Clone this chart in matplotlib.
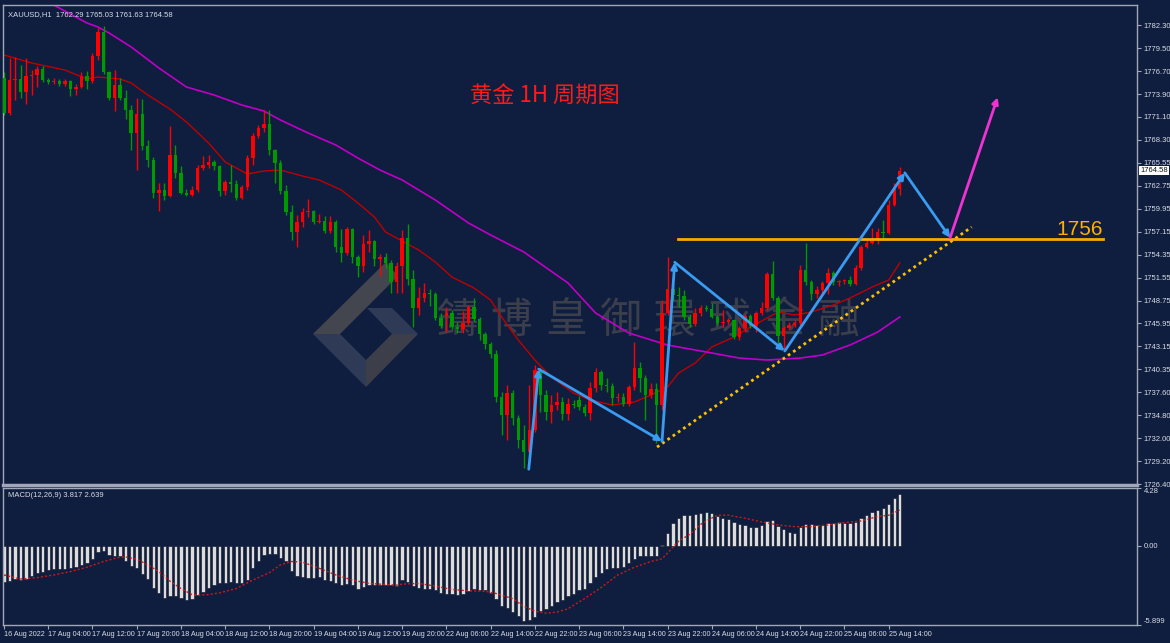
import matplotlib
matplotlib.use("Agg")
import matplotlib.pyplot as plt
import matplotlib.transforms as mtransforms
from matplotlib.patches import Polygon
import numpy as np

plt.rcParams['font.family'] = ['Liberation Sans', 'DejaVu Sans']

# ---- XAUUSD H1 candles (16 Aug 20:00 .. 25 Aug 16:00) ----
opens = [1775.9, 1771.6, 1775.6, 1775.7, 1774.1, 1776.1, 1776.2, 1777.0, 1775.6, 1775.4,
         1775.5, 1775.1, 1775.5, 1774.5, 1774.8, 1776.1, 1775.5, 1778.5, 1781.5, 1776.6,
         1773.4, 1775.0, 1773.4, 1772.0, 1769.2, 1771.5, 1767.6, 1765.9, 1761.8, 1762.2,
         1761.5, 1766.5, 1764.3, 1761.8, 1761.6, 1762.2, 1764.9, 1765.3, 1765.6, 1765.1,
         1762.1, 1763.2, 1762.9, 1761.2, 1762.6, 1766.1, 1768.8, 1769.8, 1770.2, 1767.1,
         1765.5, 1762.1, 1759.5, 1757.1, 1758.3, 1759.5, 1759.7, 1758.3, 1758.4, 1757.2,
         1758.3, 1755.3, 1754.5, 1757.5, 1754.0, 1753.0, 1755.6, 1756.0, 1753.8, 1754.0,
         1753.3, 1751.0, 1753.0, 1756.4, 1751.4, 1747.8, 1749.1, 1749.7, 1749.5, 1746.6,
         1746.9, 1747.2, 1745.5, 1745.3, 1746.0, 1748.0, 1746.5, 1744.7, 1743.5, 1742.2,
         1737.0, 1734.8, 1737.5, 1734.4, 1731.8, 1730.3, 1733.0, 1740.3, 1737.2, 1735.2,
         1736.0, 1736.4, 1734.9, 1736.1, 1736.6, 1735.8, 1735.0, 1738.1, 1740.0, 1738.5,
         1738.3, 1736.9, 1737.0, 1736.1, 1738.2, 1740.5, 1739.3, 1737.2, 1738.0, 1736.0,
         1747.2, 1750.2, 1749.4, 1749.3, 1746.7, 1745.9, 1747.2, 1747.8, 1747.7, 1746.7,
         1746.0, 1746.1, 1746.4, 1744.3, 1745.4, 1746.9, 1745.6, 1747.2, 1747.8, 1752.0,
         1749.1, 1744.4, 1745.4, 1745.8, 1746.0, 1752.5, 1751.0, 1749.5, 1750.0, 1750.9,
         1752.1, 1751.0, 1751.1, 1751.2, 1750.8, 1752.7, 1755.3, 1755.8, 1756.1, 1757.1,
         1757.0, 1760.4, 1762.29]
highs = [1776.6, 1778.3, 1778.4, 1777.4, 1778.3, 1776.8, 1777.3, 1777.3, 1775.9, 1775.9,
         1775.7, 1775.7, 1775.6, 1775.1, 1776.6, 1776.7, 1778.9, 1781.9, 1782.2, 1776.7,
         1776.8, 1775.9, 1774.4, 1772.6, 1773.4, 1773.3, 1768.3, 1766.2, 1763.1, 1763.1,
         1770.0, 1767.7, 1765.1, 1762.3, 1762.7, 1765.3, 1766.4, 1766.5, 1765.9, 1765.3,
         1763.4, 1765.3, 1763.4, 1762.8, 1766.5, 1769.2, 1770.1, 1772.0, 1772.0, 1767.2,
         1765.9, 1762.8, 1760.4, 1759.2, 1760.0, 1761.1, 1759.8, 1759.3, 1759.0, 1759.0,
         1758.6, 1757.5, 1757.7, 1757.6, 1754.3, 1756.7, 1757.3, 1756.1, 1754.4, 1754.5,
         1753.7, 1753.4, 1757.3, 1758.1, 1752.5, 1750.4, 1750.9, 1750.2, 1749.8, 1747.2,
         1748.0, 1747.6, 1746.1, 1747.5, 1748.2, 1749.1, 1746.7, 1744.9, 1743.7, 1742.7,
         1737.6, 1738.5, 1737.9, 1734.8, 1733.6, 1738.5, 1740.9, 1740.5, 1737.9, 1737.2,
         1737.6, 1737.0, 1736.9, 1736.6, 1737.1, 1736.1, 1738.8, 1740.5, 1740.3, 1739.3,
         1738.7, 1737.5, 1737.5, 1738.5, 1743.7, 1741.3, 1739.7, 1738.7, 1738.7, 1748.8,
         1754.0, 1750.9, 1750.4, 1750.0, 1747.1, 1747.8, 1748.2, 1748.2, 1748.4, 1747.0,
         1747.6, 1746.6, 1746.4, 1745.6, 1747.1, 1747.1, 1747.5, 1748.6, 1752.2, 1753.6,
         1749.3, 1745.6, 1746.1, 1746.4, 1753.1, 1755.8, 1751.2, 1750.5, 1751.1, 1752.7,
         1752.3, 1751.2, 1751.4, 1751.7, 1753.1, 1755.5, 1756.4, 1757.6, 1757.6, 1758.6,
         1761.0, 1763.1, 1765.03]
lows = [1771.3, 1771.4, 1773.2, 1773.4, 1772.7, 1773.8, 1774.8, 1775.4, 1775.1, 1775.1,
        1774.9, 1774.9, 1773.7, 1773.8, 1774.6, 1774.5, 1775.2, 1778.0, 1776.3, 1773.2,
        1771.8, 1773.2, 1770.9, 1767.1, 1764.6, 1767.1, 1765.0, 1761.2, 1759.7, 1761.0,
        1761.4, 1763.7, 1761.7, 1761.5, 1761.5, 1762.0, 1764.6, 1764.9, 1764.6, 1761.5,
        1761.6, 1762.0, 1761.0, 1761.1, 1762.2, 1765.3, 1768.5, 1769.3, 1766.5, 1763.1,
        1761.7, 1759.2, 1756.1, 1755.3, 1757.7, 1758.9, 1758.1, 1758.2, 1757.0, 1757.0,
        1754.7, 1753.4, 1754.3, 1753.3, 1751.6, 1752.2, 1754.7, 1753.0, 1751.7, 1752.7,
        1749.7, 1749.7, 1749.7, 1750.6, 1745.5, 1747.0, 1748.6, 1748.1, 1746.4, 1745.4,
        1744.9, 1745.3, 1744.8, 1744.8, 1745.8, 1746.3, 1743.9, 1742.8, 1741.7, 1736.4,
        1732.4, 1731.8, 1733.6, 1730.8, 1728.4, 1730.2, 1732.7, 1735.2, 1734.2, 1733.8,
        1735.4, 1734.2, 1734.2, 1735.7, 1735.4, 1734.7, 1734.2, 1737.6, 1737.9, 1737.6,
        1736.0, 1736.4, 1735.9, 1735.9, 1737.9, 1737.6, 1734.2, 1736.9, 1731.4, 1735.4,
        1747.0, 1748.8, 1748.0, 1746.4, 1745.5, 1745.6, 1746.9, 1747.5, 1746.6, 1745.8,
        1745.5, 1745.9, 1744.1, 1743.9, 1744.9, 1745.4, 1744.9, 1747.0, 1747.6, 1748.8,
        1743.6, 1742.7, 1745.2, 1745.5, 1745.8, 1750.6, 1748.8, 1749.1, 1749.5, 1749.5,
        1750.6, 1750.5, 1750.8, 1750.5, 1750.6, 1752.5, 1755.1, 1755.6, 1755.6, 1756.1,
        1756.9, 1760.3, 1761.63]
closes = [1771.6, 1775.6, 1775.7, 1774.1, 1776.1, 1776.2, 1777.0, 1775.6, 1775.4, 1775.5,
          1775.1, 1775.5, 1774.5, 1774.8, 1776.1, 1775.5, 1778.5, 1781.5, 1776.6, 1773.4,
          1775.0, 1773.4, 1772.0, 1769.2, 1771.5, 1767.6, 1765.9, 1761.8, 1762.2, 1761.5,
          1766.5, 1764.3, 1761.8, 1761.6, 1762.2, 1764.9, 1765.3, 1765.6, 1765.1, 1762.1,
          1763.2, 1762.9, 1761.2, 1762.6, 1766.1, 1768.8, 1769.8, 1770.2, 1767.1, 1765.5,
          1762.1, 1759.5, 1757.1, 1758.3, 1759.5, 1759.7, 1758.3, 1758.4, 1757.2, 1758.3,
          1755.3, 1754.5, 1757.5, 1754.0, 1753.0, 1755.6, 1756.0, 1753.8, 1754.0, 1753.3,
          1751.0, 1753.0, 1756.4, 1751.4, 1747.8, 1749.1, 1749.7, 1749.5, 1746.6, 1745.6,
          1747.2, 1745.5, 1745.3, 1746.0, 1748.0, 1746.5, 1744.7, 1743.5, 1742.2, 1737.0,
          1734.8, 1737.5, 1734.4, 1731.8, 1730.3, 1733.0, 1740.3, 1737.2, 1735.2, 1736.0,
          1736.4, 1734.9, 1736.1, 1736.0, 1735.8, 1735.0, 1738.1, 1740.0, 1738.5, 1738.3,
          1736.9, 1737.0, 1736.1, 1738.2, 1740.5, 1739.3, 1737.2, 1738.0, 1736.0, 1747.2,
          1750.2, 1749.4, 1749.3, 1746.7, 1745.9, 1747.2, 1747.8, 1747.7, 1746.7, 1746.0,
          1746.1, 1746.4, 1744.3, 1745.4, 1746.9, 1745.6, 1747.2, 1747.8, 1752.0, 1749.1,
          1744.4, 1745.4, 1745.8, 1746.0, 1752.5, 1751.0, 1749.5, 1750.0, 1750.9, 1752.1,
          1751.0, 1751.1, 1751.2, 1750.8, 1752.7, 1755.3, 1755.8, 1756.1, 1757.1, 1757.0,
          1760.4, 1762.3, 1764.58]

# moving averages (bar index, price)
ma_red_idx = [0, 5, 11, 15, 17, 21, 23, 26, 30, 33, 37, 40, 44, 47, 50, 54, 57, 61, 64, 67,
              69, 72, 75, 78, 81, 85, 88, 90, 93, 96, 99, 103, 106, 110, 114, 117, 120, 122,
              125, 128, 132, 135, 140, 143, 146, 150, 153, 157, 160, 162]
ma_red_val = [1778.65, 1777.68, 1776.82, 1775.73, 1775.97, 1775.73, 1775.24, 1773.78, 1772.07,
              1770.49, 1767.93, 1765.62, 1764.16, 1764.52, 1764.64, 1763.91, 1763.43, 1762.21,
              1760.63, 1758.92, 1757.09, 1756.00, 1754.90, 1753.44, 1751.61, 1750.27, 1748.81,
              1746.74, 1743.94, 1741.50, 1739.43, 1737.48, 1736.63, 1736.02, 1736.39, 1737.24,
              1738.21, 1739.92, 1741.14, 1743.09, 1744.30, 1745.52, 1747.35, 1746.98, 1747.35,
              1748.20, 1749.05, 1750.39, 1751.25, 1753.32]
ma_mag_idx = [8, 15, 17, 19, 23, 28, 33, 38, 43, 47, 50, 55, 60, 64, 68, 72, 78, 84, 88, 94,
              102, 107, 113, 120, 127, 133, 138, 144, 148, 153, 158, 162]
ma_mag_val = [1785.10, 1782.55, 1782.06, 1781.33, 1779.63, 1777.07, 1774.75, 1773.78, 1772.56,
              1771.83, 1770.73, 1769.15, 1767.69, 1766.10, 1764.64, 1763.43, 1760.99, 1758.19,
              1756.73, 1754.66, 1750.88, 1747.22, 1744.79, 1743.33, 1742.48, 1741.74, 1741.50,
              1741.74, 1742.11, 1743.33, 1744.91, 1746.74]

# MACD(12,26,9)
macd_main = [-2.69, -2.64, -2.48, -2.56, -2.48, -2.26, -2.06, -1.93, -1.81, -1.76,
             -1.73, -1.73, -1.63, -1.56, -1.43, -1.31, -1.00, -0.50, -0.43, -0.68,
             -0.80, -0.80, -1.13, -1.51, -1.68, -2.11, -2.51, -3.14, -3.51, -3.89,
             -3.77, -3.77, -3.89, -4.02, -3.97, -3.69, -3.44, -3.14, -2.94, -2.76,
             -2.76, -2.69, -2.76, -2.81, -2.56, -1.68, -1.18, -0.68, -0.60, -0.60,
             -0.93, -1.18, -1.86, -2.26, -2.36, -2.43, -2.43, -2.36, -2.56, -2.61,
             -2.76, -2.89, -2.86, -2.96, -3.19, -3.06, -2.94, -2.94, -2.94, -2.94,
             -2.94, -3.01, -2.56, -2.69, -3.01, -3.14, -3.19, -3.19, -3.31, -3.51,
             -3.56, -3.56, -3.64, -3.56, -3.39, -3.26, -3.31, -3.31, -3.51, -3.94,
             -4.49, -4.64, -4.94, -5.20, -5.57, -5.52, -5.27, -4.89, -4.69, -4.49,
             -4.19, -4.02, -3.77, -3.56, -3.31, -3.19, -2.81, -2.31, -2.01, -1.76,
             -1.68, -1.63, -1.56, -1.31, -0.98, -0.80, -0.80, -0.75, -0.80, 0.05,
             0.95, 1.66, 2.08, 2.26, 2.26, 2.38, 2.41, 2.46, 2.41, 2.21,
             2.08, 2.01, 1.76, 1.58, 1.53, 1.41, 1.41, 1.51, 1.83, 1.88,
             1.46, 1.26, 1.03, 0.95, 1.38, 1.58, 1.58, 1.53, 1.51, 1.71,
             1.71, 1.78, 1.71, 1.66, 1.78, 2.03, 2.26, 2.46, 2.66, 2.76,
             3.09, 3.51, 3.817]
sig_idx = [0, 3, 6, 9, 12, 15, 18, 21, 22, 24, 26, 28, 30, 32, 34, 35, 37, 39, 42, 45,
           48, 50, 52, 54, 57, 60, 63, 66, 69, 71, 72, 75, 78, 81, 84, 87, 89, 92, 94, 96,
           98, 100, 102, 105, 108, 111, 114, 117, 119, 120, 122, 124, 126, 127, 129, 131,
           134, 137, 140, 143, 146, 149, 152, 155, 158, 160, 162]
sig_val = [-2.18, -2.48, -2.38, -2.18, -1.93, -1.61, -1.18, -0.85, -0.85, -1.00,
           -1.43, -1.93, -2.64, -3.19, -3.64, -3.69, -3.64, -3.51, -3.19, -2.56,
           -2.01, -1.43, -1.18, -1.23, -1.68, -2.18, -2.56, -2.81, -2.89, -2.94,
           -2.86, -2.81, -3.01, -3.26, -3.36, -3.39, -3.56, -3.94, -4.52, -4.87,
           -5.02, -4.94, -4.69, -3.94, -3.11, -2.18, -1.61, -1.18, -0.98, -0.55,
           0.33, 0.83, 1.58, 1.83, 2.26, 2.26, 2.03, 1.76, 1.53, 1.41,
           1.41, 1.53, 1.71, 1.83, 2.16, 2.26, 2.639]

# axis labels
price_ticks = [1782.30, 1779.50, 1776.70, 1773.90, 1771.10, 1768.30, 1765.55, 1762.75,
               1759.95, 1757.15, 1754.35, 1751.55, 1748.75, 1745.95, 1743.15, 1740.35,
               1737.60, 1734.80, 1732.00, 1729.20, 1726.40]
time_labels = ['16 Aug 2022', '17 Aug 04:00', '17 Aug 12:00', '17 Aug 20:00', '18 Aug 04:00',
               '18 Aug 12:00', '18 Aug 20:00', '19 Aug 04:00', '19 Aug 12:00', '19 Aug 20:00',
               '22 Aug 06:00', '22 Aug 14:00', '22 Aug 22:00', '23 Aug 06:00', '23 Aug 14:00',
               '23 Aug 22:00', '24 Aug 06:00', '24 Aug 14:00', '24 Aug 22:00', '25 Aug 06:00',
               '25 Aug 14:00']
time_label_idx = [0, 8, 16, 24, 32, 40, 48, 56, 64, 72, 80, 88, 96, 104, 112, 120, 128,
                  136, 144, 152, 160]

# analyst drawings (bar index, price)
wave_idx = [94.9, 96.7, 119.0, 121.3, 141.2, 162.9, 171.1]
wave_px = [1728.2, 1740.4, 1731.6, 1753.4, 1742.6, 1764.3, 1756.4]
target_idx = [171.1, 179.7]
target_px = [1756.4, 1773.5]
trend_idx = [118.1, 175.0]
trend_px = [1730.9, 1757.7]
resist_level = 1756.2
resist_span = [121.9, 198.7]

bg = '#0f1d3f'
fg = '#d8dce4'
frame = '#a0a8b8'

fig = plt.figure(figsize=(11.7, 6.43), dpi=100, facecolor=bg)
ax = fig.add_axes([3 / 1170, 1 - 485 / 643, 1134 / 1170, 480 / 643])
ax2 = fig.add_axes([3 / 1170, 1 - 625 / 643, 1134 / 1170, 137 / 643])

for a in (ax, ax2):
    a.set_facecolor(bg)
    for s in a.spines.values():
        s.set_color(frame)
        s.set_linewidth(1)
    a.set_xlim(-0.18, 204.9)
ax.spines['bottom'].set_linewidth(2.5)

# watermark (logo + company name)
def px(x, y):
    return ((x - 3) / 1134, (485 - y) / 480)

logo = [
    ([(386, 262), (313, 334), (340, 334), (398, 276)], '#44464f'),
    ([(313, 334), (366, 387), (366, 360), (340, 334)], '#2f3a56'),
    ([(367, 308), (392, 308), (418, 334), (392, 334)], '#2f3a56'),
    ([(392, 334), (418, 334), (366, 387), (366, 360)], '#3c3f4a'),
]
for pts, col in logo:
    ax.add_patch(Polygon([px(x, y) for x, y in pts], closed=True, transform=ax.transAxes,
                         facecolor=col, edgecolor='none', zorder=0.5))
for k, ch in enumerate('鑄博皇御環球金融'):
    xf, yf = px(457 + 54.5 * k, 321)
    ax.text(xf, yf, ch, transform=ax.transAxes, ha='center', va='center', fontsize=30,
            color='#3b3f4c', family=['Noto Sans CJK TC', 'DejaVu Sans'], zorder=0.6)

idx = np.arange(len(closes))
o = np.array(opens)
c = np.array(closes)
cols = np.where(c >= o, '#ff0000', '#009a00')
ax.vlines(idx, lows, highs, colors=cols, linewidth=1, zorder=2)
ax.bar(idx, np.maximum(np.abs(c - o), 0.12), bottom=np.minimum(o, c), width=0.62,
       color=cols, linewidth=0, zorder=3)

ax.plot(ma_red_idx, ma_red_val, color='#c00000', lw=1, zorder=1.5)
ax.plot(ma_mag_idx, ma_mag_val, color='#c000c8', lw=1.2, zorder=1.5)

# analyst drawings
ax.plot(trend_idx, trend_px, color='#ffc000', lw=2, linestyle=(0, (1, 1.3)), zorder=4)
ax.plot(resist_span, [resist_level, resist_level], color='#f5aa00', lw=2, zorder=4)
ax.text(194.6, 1757.4, '1756', color='#ffb000', fontsize=15, ha='center', va='center', zorder=5)
arrow_kw = dict(arrowstyle='-|>', lw=2, mutation_scale=9, shrinkA=0, shrinkB=0)
for k in range(len(wave_idx) - 1):
    ax.annotate('', xy=(wave_idx[k + 1], wave_px[k + 1]), xytext=(wave_idx[k], wave_px[k]),
                arrowprops=dict(color='#3a9cf0', **arrow_kw), zorder=5)
ax.annotate('', xy=(target_idx[1], target_px[1]), xytext=(target_idx[0], target_px[0]),
            arrowprops=dict(color='#f032d2', **arrow_kw), zorder=5)

ax.set_ylim(1726.28, 1784.74)
ax.yaxis.tick_right()
ax.set_yticks(price_ticks)
ax.set_yticklabels([f'{v:.2f}' for v in price_ticks])
ax.tick_params(axis='y', colors=frame, labelcolor=fg, labelsize=5.5, length=3, width=0.8, pad=2)
ax.tick_params(axis='x', bottom=False, labelbottom=False)

ax.text(0.004, 0.988, 'XAUUSD,H1  1762.29 1765.03 1761.63 1764.58', transform=ax.transAxes,
        color=fg, fontsize=5.5, va='top', ha='left')
fig.text(545 / 1170, 1 - 96 / 643, '黄金 1H 周期图', color='#ff1a1a', fontsize=16,
         ha='center', va='center', weight='medium',
         family=['Noto Sans CJK SC', 'DejaVu Sans'])

cur = mtransforms.blended_transform_factory(ax.transAxes, ax.transData)
ax.text(1.003, closes[-1], f'{closes[-1]:.2f}', transform=cur, color='#101010', fontsize=5.5,
        ha='left', va='center', bbox=dict(boxstyle='square,pad=0.15', fc='white', ec='none'))

# MACD panel
ax2.bar(idx, macd_main, width=0.6, color='#dcdcdc', edgecolor='#0a1024', linewidth=0.4, zorder=2)
ax2.plot(sig_idx, sig_val, color='#d01818', lw=1, linestyle=(0, (1.5, 1.5)), zorder=3)
ax2.set_ylim(-5.899, 4.28)
ax2.yaxis.tick_right()
ax2.set_yticks([4.28, 0.0, -5.899])
ax2.set_yticklabels(['4.28', '0.00', '-5.899'])
lbls = ax2.get_yticklabels()
lbls[0].set_va('top')
lbls[2].set_va('bottom')
ax2.tick_params(axis='y', colors=frame, labelcolor=fg, labelsize=5.5, length=3, width=0.8, pad=2)
ax2.set_xticks(time_label_idx)
ax2.set_xticklabels(time_labels, ha='left')
ax2.tick_params(axis='x', colors=frame, labelcolor=fg, labelsize=5.2, length=3, width=0.8, pad=1.5)
ax2.text(0.004, 0.97, 'MACD(12,26,9) 3.817 2.639', transform=ax2.transAxes,
         color=fg, fontsize=5.5, va='top', ha='left')

fig.savefig('out.png', dpi=100, facecolor=bg)
